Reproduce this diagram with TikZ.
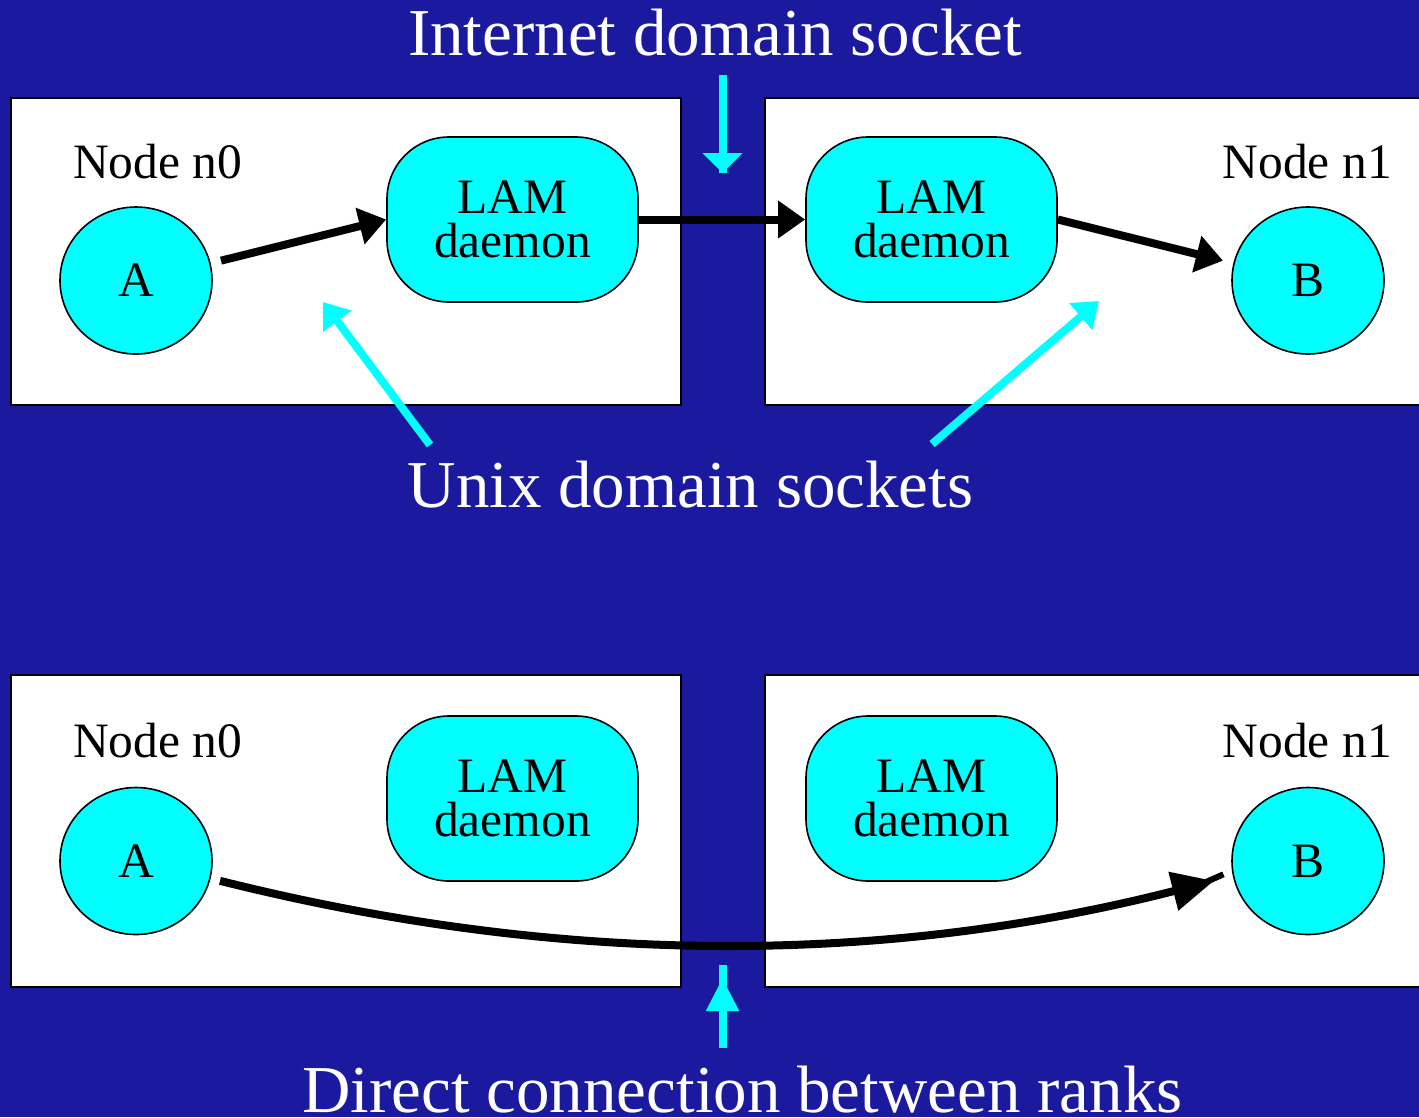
\documentclass[tikz,border=0pt]{standalone}
\usepackage{fontspec}
\setmainfont{Liberation Serif}
\usetikzlibrary{arrows.meta,shapes.geometric,calc}
\definecolor{bgblue}{RGB}{27,26,158}
\definecolor{cy}{RGB}{0,255,255}
\begin{document}
\begin{tikzpicture}[x=1pt,y=-1pt,
  hostbox/.style={draw=black,fill=white,line width=2pt,inner sep=0pt,anchor=north west,minimum height=307pt},
  proc/.style={ellipse,draw=black,fill=cy,line width=1.6pt,inner sep=0pt,minimum width=152pt,minimum height=147pt,font=\fontsize{49.5}{44}\selectfont},
  lam/.style={rectangle,rounded corners=62pt,draw=black,fill=cy,line width=1.6pt,inner sep=0pt,minimum width=251pt,minimum height=165pt,align=center,font=\fontsize{49.5}{44}\selectfont},
  hostlbl/.style={font=\fontsize{49.5}{50}\selectfont,text=black,inner sep=0pt},
  title/.style={font=\fontsize{67}{67}\selectfont,text=white,inner sep=0pt,anchor=base},
  blk/.style={draw=black,line width=8pt,-{Triangle[length=27pt,width=36pt]}},
  cyarr/.style={draw=cy,line width=8pt,-{Triangle[length=24pt,width=34pt]}},
  cyline/.style={draw=cy,line width=8pt}
]
\useasboundingbox (0,0) rectangle (1419,1117);
\clip (0,0) rectangle (1419,1117);
\fill[bgblue] (0,0) rectangle (1419,1117);

% ---------- top half ----------
\node[hostbox,minimum width=670pt] (h0) at (10,97) {};
\node[hostbox,minimum width=700pt] (h1) at (764,97) {};
\node[hostlbl,anchor=base west] (n0) at (73,178) {Node n0};
\node[hostlbl,anchor=base east] (n1) at (1392,178) {Node n1};
\node[proc] (A) at (136,280.5) {A};
\node[proc] (B) at (1308,280.5) {B};
\node[lam] (L0) at (512.5,219.5) {LAM\\daemon};
\node[lam] (L1) at (931.5,219.5) {LAM\\daemon};

\draw[blk] ([xshift=11pt]A.15) -- (L0.west);
\draw[blk] (L0.east) -- (L1.west);
\draw[blk] (L1.east) -- ([xshift=-11pt]B.165);

\node[title] (tin) at (715,55) {Internet domain socket};
\coordinate (inS) at (722.5,75);
\coordinate (inT) at (722.5,173);
\draw[cyarr,-{Triangle[length=20pt,width=39pt]}] (inS) -- (inT);
\draw[cyline] ([yshift=6pt]inT) -- ++(0,6);

\node[title] (tux) at (690.5,507) {Unix domain sockets};
\coordinate (u1S) at (430,445);
\coordinate (u1T) at (323,302);
\coordinate (u2S) at (932,444);
\coordinate (u2T) at (1099,301);
\draw[cyarr] (u1S) -- (u1T);
\draw[cyarr] (u2S) -- (u2T);

% ---------- bottom half ----------
\node[hostbox,minimum width=670pt,minimum height=312pt] (h2) at (10,674) {};
\node[hostbox,minimum width=700pt,minimum height=312pt] (h3) at (764,674) {};
\node[hostlbl,anchor=base west] (n2) at (73,757) {Node n0};
\node[hostlbl,anchor=base east] (n3) at (1392,757) {Node n1};
\node[proc] (A2) at (136,861) {A};
\node[proc] (B2) at (1308,861) {B};
\node[lam] (L2) at (512.5,798.5) {LAM\\daemon};
\node[lam] (L3) at (931.5,798.5) {LAM\\daemon};

\draw[draw=black,line width=8pt,-{Triangle[length=42pt,width=38pt]}]
  ([xshift=10pt]A2.-15) .. controls (560,966) and (880,966) .. ([xshift=-20pt]B2.195);
\draw[draw=black,line width=6pt] ([xshift=-30pt,yshift=-2pt]B2.195) -- ([xshift=-9pt]B2.190);

\node[title] (tdc) at (742.5,1112) {Direct connection between ranks};
\coordinate (dS) at (722.5,1048);
\coordinate (dT) at (722.5,978);
\draw[cyarr,-{Triangle[length=33pt,width=31pt]}] (dS) -- (dT);
\draw[cyline] ([yshift=-8pt]dT) -- ++(0,-21);
\end{tikzpicture}
\end{document}
